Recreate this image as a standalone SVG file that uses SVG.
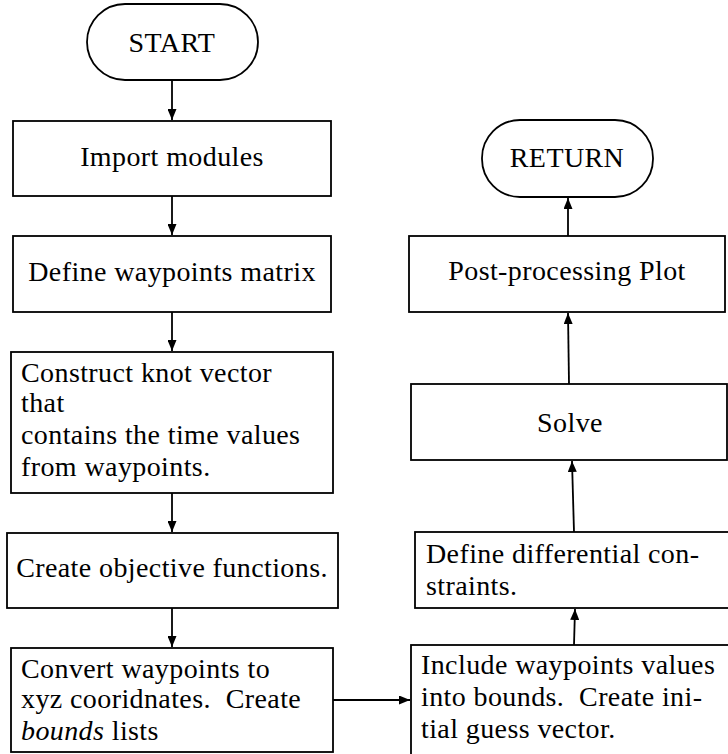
<svg xmlns="http://www.w3.org/2000/svg" width="728" height="754" viewBox="0 0 728 754">
<defs>
<marker id="ah" markerWidth="11" markerHeight="9" refX="11" refY="4.5" orient="auto" markerUnits="userSpaceOnUse">
<path d="M0,0 L11,4.5 L0,9 Z" fill="#000"/>
</marker>
<style>
.box{fill:#fff;stroke:#000;stroke-width:1.8}
.t{font-family:"Liberation Serif","Times New Roman",serif;font-size:28px;letter-spacing:0.4px;fill:#000}
.c{text-anchor:middle}
.edge{stroke:#000;stroke-width:1.8;fill:none;marker-end:url(#ah)}
</style>
</defs>
<rect width="728" height="754" fill="#fff"/>
<g id="connectors">
<line class="edge" x1="172" y1="80" x2="172" y2="120"/>
<line class="edge" x1="172" y1="196" x2="172" y2="235"/>
<line class="edge" x1="172" y1="312" x2="172" y2="351"/>
<line class="edge" x1="172" y1="493" x2="172" y2="532"/>
<line class="edge" x1="172" y1="608" x2="172" y2="647"/>
<line class="edge" x1="333" y1="700" x2="410" y2="700"/>
<line class="edge" x1="574" y1="645" x2="575" y2="609"/>
<line class="edge" x1="574" y1="532" x2="572" y2="461"/>
<line class="edge" x1="569" y1="384" x2="568" y2="313"/>
<line class="edge" x1="568" y1="236" x2="568" y2="198"/>
</g>
<g id="start">
<rect class="box" x="87" y="4" width="171" height="76" rx="38" ry="38"/>
<text class="t c" x="172" y="52">START</text>
</g>
<g id="import">
<rect class="box" x="13" y="121" width="318" height="75"/>
<text class="t c" x="172" y="166">Import modules</text>
</g>
<g id="waypoints">
<rect class="box" x="13" y="236" width="318" height="76"/>
<text class="t c" x="172" y="281">Define waypoints matrix</text>
</g>
<g id="knot">
<rect class="box" x="11" y="352" width="322" height="141"/>
<text class="t" x="21" y="382">Construct knot vector</text>
<text class="t" x="21" y="412">that</text>
<text class="t" x="21" y="444">contains the time values</text>
<text class="t" x="21" y="476">from waypoints.</text>
</g>
<g id="objective">
<rect class="box" x="7" y="533" width="331" height="75"/>
<text class="t c" x="172" y="577">Create objective functions.</text>
</g>
<g id="convert">
<rect class="box" x="11" y="648" width="322" height="104"/>
<text class="t" x="21" y="678">Convert waypoints to</text>
<text class="t" x="21" y="708">xyz cooridnates. &#160;Create</text>
<text class="t" x="21" y="740"><tspan font-style="italic">bounds</tspan> lists</text>
</g>
<g id="include">
<rect class="box" x="411" y="645" width="330" height="120"/>
<text class="t" x="421" y="674">Include waypoints values</text>
<text class="t" x="421" y="706">into bounds. &#160;Create ini-</text>
<text class="t" x="421" y="738">tial guess vector.</text>
</g>
<g id="differential">
<rect class="box" x="415" y="532" width="330" height="76"/>
<text class="t" x="426" y="563">Define differential con-</text>
<text class="t" x="426" y="595">straints.</text>
</g>
<g id="solve">
<rect class="box" x="411" y="384" width="316" height="76"/>
<text class="t c" x="570" y="432">Solve</text>
</g>
<g id="post">
<rect class="box" x="409" y="236" width="316" height="76"/>
<text class="t c" x="567" y="280">Post-processing Plot</text>
</g>
<g id="return">
<rect class="box" x="482" y="120" width="171" height="77" rx="38" ry="38"/>
<text class="t c" x="567" y="167">RETURN</text>
</g>
</svg>
